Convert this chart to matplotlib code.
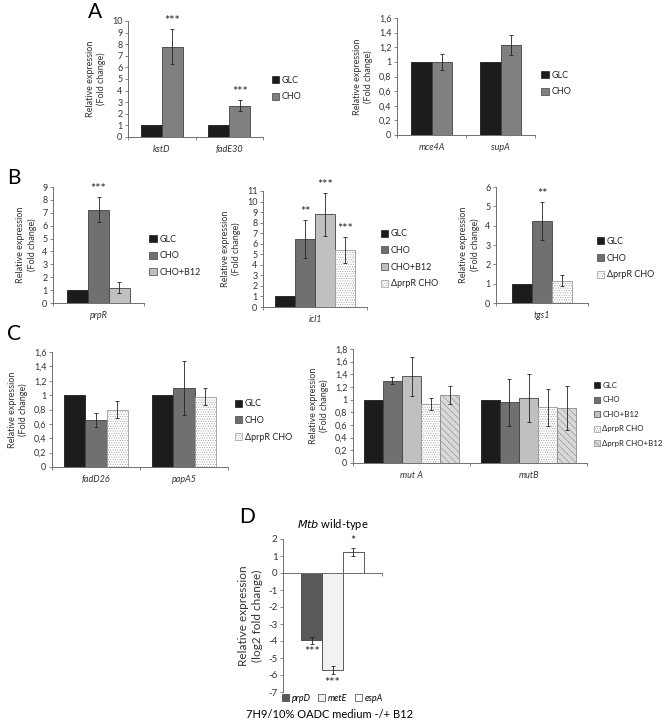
import numpy as np
import matplotlib
matplotlib.use("Agg")
import matplotlib.pyplot as plt
from matplotlib.patches import Patch

plt.rcParams['font.family'] = ['Lato', 'DejaVu Sans']
plt.rcParams['hatch.linewidth'] = 0.4

W, H = 667, 723

# ---- data ----
a1_genes = ['kstD', 'fadE30']
a1_glc = [1, 1]
a1_cho = [7.8, 2.7]
a1_cho_err = [1.5, 0.5]

a2_genes = ['mce4A', 'supA']
a2_glc = [1, 1]
a2_cho = [1.0, 1.23]
a2_cho_err = [0.11, 0.14]

b1_genes = ['prpR']
b1_vals = [[1], [7.25], [1.2]]
b1_errs = [[0], [0.95], [0.4]]

b2_genes = ['icl1']
b2_vals = [[1], [6.45], [8.8], [5.4]]
b2_errs = [[0], [1.8], [2.05], [1.25]]

b3_genes = ['tgs1']
b3_vals = [[1], [4.25], [1.15]]
b3_errs = [[0], [0.97], [0.28]]

c1_genes = ['fadD26', 'papA5']
c1_vals = [[1, 1], [0.65, 1.1], [0.8, 0.98]]
c1_errs = [[0, 0], [0.1, 0.38], [0.12, 0.12]]

c2_genes = ['mut A', 'mutB']
c2_vals = [[1, 1], [1.3, 0.96], [1.37, 1.02], [0.93, 0.88], [1.07, 0.87]]
c2_errs = [[0, 0], [0.05, 0.37], [0.31, 0.38], [0.1, 0.29], [0.14, 0.35]]

d_genes = ['prpD', 'metE', 'espA']
d_vals = [-3.95, -5.7, 1.25]
d_errs = [0.2, 0.25, 0.25]
d_stars = ['***', '***', '*']

# ---- styles ----
S_GLC = dict(facecolor='#1c1c1c', edgecolor='#1c1c1c')
S_CHO_A = dict(facecolor='#808080', edgecolor='#404040')
S_CHO = dict(facecolor='#707070', edgecolor='#404040')
S_B12 = dict(facecolor='#c0c0c0', edgecolor='#404040')
S_DEL = dict(facecolor='white', edgecolor='#9a9a9a', hatch='.......')
S_DELB12 = dict(facecolor='#d9d9d9', edgecolor='#8a8a8a', hatch='\\\\\\\\\\')

fig = plt.figure(figsize=(W / 100, H / 100), dpi=100)


def make_ax(x0, x1, ytop, ybot):
    return fig.add_axes([x0 / W, 1 - ybot / H, (x1 - x0) / W, (ybot - ytop) / H])


def style_ax(ax, ylim, yticks, ylabels, ylabel, fs=6.5):
    ax.set_ylim(*ylim)
    ax.set_yticks(yticks)
    ax.set_yticklabels(ylabels, fontsize=fs, color='#333333')
    for s in ['top', 'right']:
        ax.spines[s].set_visible(False)
    for s in ['left', 'bottom']:
        ax.spines[s].set_color('#707070')
        ax.spines[s].set_linewidth(0.7)
    ax.tick_params(axis='y', length=2, width=0.6, color='#707070', pad=2)
    ax.set_ylabel(ylabel, fontsize=fs, color='#333333', labelpad=4, linespacing=1.3)


def grouped(ax, genes, series, errs, styles, width, stars=None, star_off=0.3):
    n = len(series)
    x = np.arange(len(genes))
    for i, (vals, er, st) in enumerate(zip(series, errs, styles)):
        pos = x + (i - (n - 1) / 2) * width
        ax.bar(pos, vals, width, linewidth=0.6, **st)
        for p, v, e in zip(pos, vals, er):
            if e > 0:
                ax.errorbar(p, v, yerr=e, fmt='none', ecolor='#222222',
                            elinewidth=0.6, capsize=1.5, capthick=0.6)
        if stars is not None:
            for p, v, e, s in zip(pos, vals, er, stars[i]):
                if s:
                    ax.text(p, v + e + star_off, s, ha='center', va='bottom',
                            fontsize=9, color='#222222')
    ax.set_xlim(-0.5, len(genes) - 0.5)
    ax.set_xticks(x)
    ax.set_xticklabels(genes, fontsize=6.5, style='italic', color='#333333')
    ax.set_xticks(np.arange(-0.5, len(genes), 1), minor=True)
    ax.tick_params(axis='x', which='major', length=0, pad=6)
    ax.tick_params(axis='x', which='minor', length=2, width=0.6, color='#707070')


def legend(ax, labels, styles, x, y, spacing=0.85, fs=6.5):
    handles = [Patch(linewidth=0.5, **st) for st in styles]
    ax.legend(handles, labels, loc='upper left', bbox_to_anchor=(x, y),
              frameon=False, fontsize=fs, handlelength=0.8, handleheight=0.8,
              handletextpad=0.3, labelspacing=spacing, borderaxespad=0,
              labelcolor='#222222')


YL = 'Relative expression\n(Fold change)'
T16 = ['0', '0,2', '0,4', '0,6', '0,8', '1', '1,2', '1,4', '1,6']

# ---- Panel A ----
ax = make_ax(128, 263, 21, 137)
style_ax(ax, (0, 10), range(0, 11), [str(v) for v in range(0, 11)], YL)
grouped(ax, a1_genes, [a1_glc, a1_cho], [[0, 0], a1_cho_err],
        [S_GLC, S_CHO_A], 0.31, stars=[[None, None], ['***', '***']], star_off=0.2)
legend(ax, ['GLC', 'CHO'], [S_GLC, S_CHO_A], 1.04, 0.56)
fig.text(95 / W, 1 - 12 / H, 'A', fontsize=15, va='center', ha='center')

ax = make_ax(397, 535, 18, 135)
style_ax(ax, (0, 1.6), np.arange(0, 1.61, 0.2), T16, YL)
grouped(ax, a2_genes, [a2_glc, a2_cho], [[0, 0], a2_cho_err], [S_GLC, S_CHO_A], 0.3)
legend(ax, ['GLC', 'CHO'], [S_GLC, S_CHO_A], 1.02, 0.58)

# ---- Panel B ----
fig.text(14 / W, 1 - 178 / H, 'B', fontsize=15, va='center', ha='center')
ax = make_ax(53, 144, 187, 303)
style_ax(ax, (0, 9), range(0, 10), [str(v) for v in range(0, 10)], YL)
grouped(ax, b1_genes, b1_vals, b1_errs, [S_GLC, S_CHO, S_B12], 0.23,
        stars=[[None], ['***'], [None]], star_off=0.15)
legend(ax, ['GLC', 'CHO', 'CHO+B12'], [S_GLC, S_CHO, S_B12], 1.02, 0.62)

ax = make_ax(263, 367, 191, 307)
style_ax(ax, (0, 11), range(0, 12), [str(v) for v in range(0, 12)], YL)
grouped(ax, b2_genes, b2_vals, b2_errs, [S_GLC, S_CHO, S_B12, S_DEL], 0.19,
        stars=[[None], ['**'], ['***'], ['***']], star_off=0.15)
legend(ax, ['GLC', 'CHO', 'CHO+B12', '\u0394prpR CHO'],
       [S_GLC, S_CHO, S_B12, S_DEL], 1.1, 0.7)

ax = make_ax(496, 588, 187, 303)
style_ax(ax, (0, 6), range(0, 7), [str(v) for v in range(0, 7)], YL)
grouped(ax, b3_genes, b3_vals, b3_errs, [S_GLC, S_CHO, S_DEL], 0.22,
        stars=[[None], ['**'], [None]], star_off=0.1)
legend(ax, ['GLC', 'CHO', '\u0394prpR CHO'], [S_GLC, S_CHO, S_DEL], 1.06, 0.6)

# ---- Panel C ----
fig.text(14 / W, 1 - 334 / H, 'C', fontsize=15, va='center', ha='center')
ax = make_ax(52, 228, 352, 467)
style_ax(ax, (0, 1.6), np.arange(0, 1.61, 0.2), T16, YL)
grouped(ax, c1_genes, c1_vals, c1_errs, [S_GLC, S_CHO, S_DEL], 0.24)
legend(ax, ['GLC', 'CHO', '\u0394prpR CHO'], [S_GLC, S_CHO, S_DEL], 1.02, 0.62)

ax = make_ax(353, 587, 349, 463)
style_ax(ax, (0, 1.8), np.arange(0, 1.81, 0.2), T16 + ['1,8'], YL)
grouped(ax, c2_genes, c2_vals, c2_errs, [S_GLC, S_CHO, S_B12, S_DEL, S_DELB12], 0.163)
legend(ax, ['GLC', 'CHO', 'CHO+B12', '\u0394prpR CHO', '\u0394prpR CHO+B12'],
       [S_GLC, S_CHO, S_B12, S_DEL, S_DELB12], 1.015, 0.74, spacing=0.95, fs=5.7)

# ---- Panel D ----
fig.text(247 / W, 1 - 517 / H, 'D', fontsize=15, va='center', ha='center')
D_STY = [dict(facecolor='#595959', edgecolor='#404040'),
         dict(facecolor='#f2f2f2', edgecolor='#404040'),
         dict(facecolor='white', edgecolor='#404040')]
ax = make_ax(283, 382, 539, 692)
style_ax(ax, (-7, 2), range(-7, 3), [str(v) for v in range(-7, 3)],
         'Relative expression\n(log2 fold change)', fs=7)
ax.yaxis.label.set_fontsize(8.5)
w = 0.21
pos = (np.arange(len(d_genes)) - 1) * w
for p, v, e, s, st in zip(pos, d_vals, d_errs, d_stars, D_STY):
    ax.bar(p, v, w, linewidth=0.6, **st)
    ax.errorbar(p, v, yerr=e, fmt='none', ecolor='#222222',
                elinewidth=0.6, capsize=1.5, capthick=0.6)
    if v < 0:
        ax.text(p, v - e - 0.15, s, ha='center', va='top', fontsize=9, color='#222222')
    else:
        ax.text(p, v + e + 0.02, s, ha='center', va='bottom', fontsize=9, color='#222222')
ax.set_xlim(-0.5, 0.5)
ax.spines['bottom'].set_position(('data', 0))
ax.set_xticks([])
ax.set_xticks([-0.5, 0.5], minor=True)
ax.tick_params(axis='x', which='minor', length=2, width=0.6, color='#707070')
handles = [Patch(linewidth=0.5, **st) for st in D_STY]
ax.legend(handles, d_genes, loc='center', bbox_to_anchor=(0.5, -0.04), ncol=3,
          frameon=False, handlelength=0.8, handleheight=0.8,
          handletextpad=0.3, columnspacing=0.8, borderaxespad=0,
          prop={'style': 'italic', 'size': 6.5})
fig.text(333 / W, 1 - 525 / H, r'$\it{Mtb}$ wild-type', fontsize=8, ha='center', va='center')
fig.text(330 / W, 1 - 715 / H, '7H9/10% OADC medium -/+ B12', fontsize=8,
         ha='center', va='center')

fig.savefig('out.png', dpi=100)
